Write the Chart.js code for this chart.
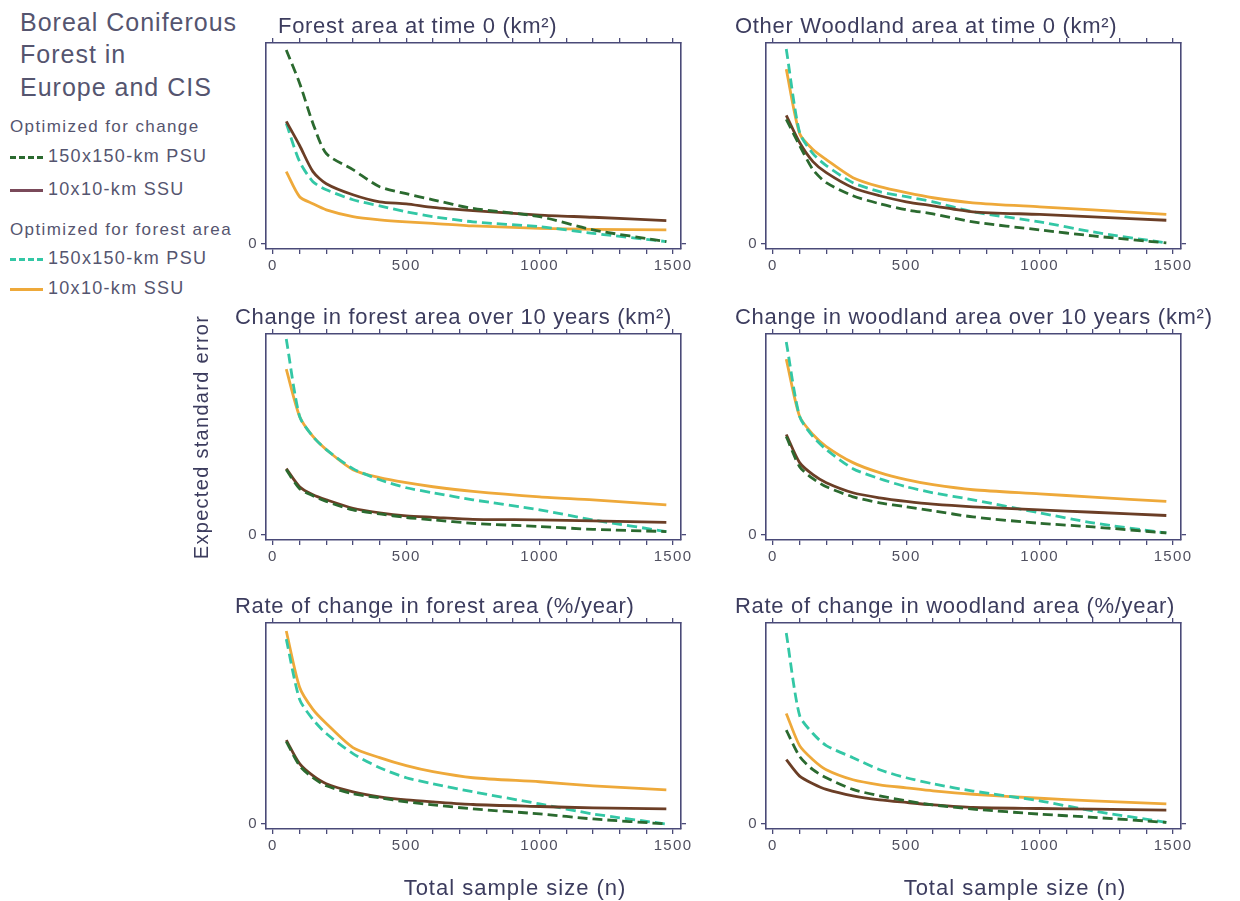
<!DOCTYPE html>
<html>
<head>
<meta charset="utf-8">
<script src="https://cdn.jsdelivr.net/npm/chart.js@4.4.1/dist/chart.umd.min.js"></script>
<style>
  body { margin: 0; width: 1240px; height: 901px; overflow: hidden; background: #fff; position: relative; font-family: "Liberation Sans", Arial, sans-serif; }
  .panel { position: absolute; }
  .legend { position: absolute; left: 0; top: 0; color: #55556f; }
  .legend div { position: absolute; white-space: nowrap; }
  .big { font-size: 25px; letter-spacing: 1px; left: 20px; }
  .small { font-size: 17px; letter-spacing: 1.4px; }
  .entry { font-size: 18px; letter-spacing: 1.3px; left: 48px; }
  .sw { position: absolute; left: 10px; width: 33px; height: 0; }
</style>
</head>
<body>
<div class="legend">
  <div class="big" style="top:8px">Boreal Coniferous</div>
  <div class="big" style="top:40px">Forest in</div>
  <div class="big" style="top:73px">Europe and CIS</div>
  <div class="small" style="left:10px;top:117px">Optimized for change</div>
  <div class="sw" style="top:156px;border-top:3px dashed #2b6a2f"></div>
  <div class="entry" style="top:146px">150x150-km PSU</div>
  <div class="sw" style="top:189px;border-top:3px solid #7a4a5a"></div>
  <div class="entry" style="top:179px">10x10-km SSU</div>
  <div class="small" style="left:10px;top:220px">Optimized for forest area</div>
  <div class="sw" style="top:258px;border-top:3px dashed #33c7a5"></div>
  <div class="entry" style="top:248px">150x150-km PSU</div>
  <div class="sw" style="top:288px;border-top:3px solid #eea93a"></div>
  <div class="entry" style="top:278px">10x10-km SSU</div>
</div>

<script>
// sample sizes (x) shared by all curves
const n = [50, 100, 150, 200, 300, 400, 500, 600, 750, 1000, 1200, 1475];
const xTicks = [0, 100, 200, 300, 400, 500, 600, 700, 800, 900, 1000, 1100, 1200, 1300, 1400, 1500];
const xLabels = [0, 500, 1000, 1500];
const yTicks = [0];

const titles = [
    'Forest area at time 0 (km²)',
    'Other Woodland area at time 0 (km²)',
    'Change in forest area over 10 years (km²)',
    'Change in woodland area over 10 years (km²)',
    'Rate of change in forest area (%/year)',
    'Rate of change in woodland area (%/year)'
];

// expected standard error, relative units; one row per panel
const changePSU = [
    [96.5, 80, 60, 45, 37, 28.5, 25, 22, 17.7, 13.6, 7, 1.2],
    [62, 49, 37, 30.5, 24, 20, 17, 15, 11, 7, 4, 0.5],
    [32.5, 23, 19.5, 16.7, 12.5, 10.5, 8.7, 7.5, 5.8, 4.2, 2.8, 1.7],
    [49, 34, 28, 24, 19, 16, 14, 12, 9, 5.8, 4, 1],
    [41, 29, 23, 19, 15, 13, 11, 9.5, 7.5, 5, 2.5, 0],
    [46.7, 33.6, 27, 23, 17.2, 14, 11.5, 9.5, 7.4, 4.9, 3.3, 0.8]
];
const changeSSU = [
    [61, 49, 36, 30, 24.5, 21, 20, 18.2, 16.6, 14.4, 13.3, 11.6],
    [64, 50.5, 41, 35.5, 28, 24, 21, 19, 16, 14.7, 13.5, 11.8],
    [33, 24, 20, 17.5, 13.3, 11, 9.5, 8.8, 7.8, 7.5, 7, 6.3],
    [50, 36, 30, 26, 21, 18.5, 16.7, 15.3, 14, 12.5, 11.3, 9.7],
    [41.7, 30, 24, 20, 16, 13.5, 12, 11, 9.7, 8.7, 8, 7.5],
    [32, 23.8, 20, 17.2, 14, 12, 10.7, 9.5, 8.2, 7.7, 7.4, 6.9]
];
const areaPSU = [
    [60, 41, 31, 27, 22, 19, 16, 13.6, 11, 8.6, 5.3, 1.2],
    [97, 55.5, 45, 39, 30.5, 26, 23.5, 21, 16, 11, 6, 0.5],
    [97.5, 59, 49, 42.5, 33, 27.5, 23.5, 21, 17.5, 12.5, 7.5, 1.7],
    [96, 59, 49, 42.5, 33, 28, 24, 21, 17.5, 11, 6, 1],
    [92, 62, 52, 45, 35, 28, 23, 20, 16, 10, 5, 0],
    [95, 54, 45, 39, 33, 27, 23, 20, 16.4, 11.5, 6.5, 0.8]
];
const areaSSU = [
    [36, 23.5, 20, 17, 13.6, 12, 11, 10.3, 9, 7.8, 7.3, 7],
    [87, 55, 47, 42, 33, 28.5, 25.5, 23, 20.5, 18.5, 17, 14.7],
    [82.5, 59, 49, 42.5, 32.5, 28.5, 26, 24, 21.7, 19, 17.5, 15],
    [87.5, 59, 50, 44, 36, 31, 27.5, 25, 22.5, 20.5, 18.8, 16.7],
    [96, 68, 57, 50, 38, 33, 29, 26, 23, 21, 19, 17],
    [55, 39, 32, 27, 22, 19.5, 18, 16.5, 14.8, 12.8, 11.5, 10]
];

const axisColor = '#4a4a78';
const textColor = '#3c3c5e';
const font = '"Liberation Sans", Arial, sans-serif';

// draws the panel heading and the bottom-row axis caption
const panelText = {
    id: 'panelText',
    beforeDraw(chart) {
        chart.ctx.letterSpacing = '1.3px';
    },
    afterDraw(chart, args, opts) {
        const ctx = chart.ctx;
        const area = chart.chartArea;
        ctx.save();
        ctx.fillStyle = textColor;
        ctx.letterSpacing = '0.7px';
        ctx.font = '22px ' + font;
        ctx.textBaseline = 'alphabetic';
        ctx.fillText(opts.title, area.left + opts.dx, area.top - 10);
        if (opts.xLabel) {
            ctx.letterSpacing = '1px';
            ctx.font = '22px ' + font;
            ctx.textAlign = 'center';
            ctx.fillText(opts.xLabel, area.left + 249, area.bottom + 66);
        }
        ctx.restore();
    }
};

function xpts(vals) {
    return vals.map((v, i) => ({x: n[i], y: v}));
}

function edgeAxis(pos, isX, width) {
    return {
        type: 'linear',
        position: pos,
        min: isX ? -26 : -2.5,
        max: isX ? 1530 : 100,
        afterBuildTicks: (s) => { s.ticks = (isX ? xTicks : yTicks).map(v => ({value: v})); },
        afterFit: (s) => { if (isX) s.height = width; else s.width = width; },
        ticks: {display: false},
        grid: {drawOnChartArea: false, tickLength: 5, color: axisColor, lineWidth: 1.3},
        border: {color: axisColor, width: 1.6}
    };
}

function drawPanel(i) {
    const col = i % 2, row = Math.floor(i / 2);
    const areaLeft = col == 0 ? 266 : 766;
    const areaTop = [43, 334, 623][row];
    const yWidth = i == 2 ? 76 : 36;
    const left = areaLeft - yWidth;
    const right = col == 0 ? 720 : 1240;
    const bottomPad = row == 2 ? 45 : 4;
    const height = 40 + 206 + 30 + bottomPad;

    const box = document.createElement('div');
    box.className = 'panel';
    box.style.left = left + 'px';
    box.style.top = (areaTop - 40) + 'px';
    box.style.width = (right - left) + 'px';
    box.style.height = height + 'px';
    const cv = document.createElement('canvas');
    box.appendChild(cv);
    document.body.appendChild(box);

    const x = edgeAxis('bottom', true, 30);
    x.ticks = {
        display: true, autoSkip: false, maxRotation: 0, padding: 3, color: '#505060',
        font: {family: font, size: 15},
        callback: (v) => xLabels.includes(v) ? String(v) : ''
    };
    const y = edgeAxis('left', false, yWidth);
    y.ticks = {display: true, padding: 3, color: '#505060', font: {family: font, size: 15}, callback: (v) => String(v)};
    if (i == 2) {
        y.title = {display: true, text: 'Expected standard error', color: textColor,
            font: {family: font, size: 20}, padding: {top: 0, bottom: 0}};
    }

    new Chart(cv, {
        type: 'line',
        data: {
            datasets: [{
                label: 'Optimized for change: 150x150-km PSU',
                data: xpts(changePSU[i]),
                borderColor: '#2b6a2f',
                borderDash: [10, 5],
                borderWidth: 2.8
            }, {
                label: 'Optimized for change: 10x10-km SSU',
                data: xpts(changeSSU[i]),
                borderColor: '#6b3e26',
                borderWidth: 2.8
            }, {
                label: 'Optimized for forest area: 150x150-km PSU',
                data: xpts(areaPSU[i]),
                borderColor: '#33c7a5',
                borderDash: [10, 5],
                borderWidth: 2.8
            }, {
                label: 'Optimized for forest area: 10x10-km SSU',
                data: xpts(areaSSU[i]),
                borderColor: '#eea93a',
                borderWidth: 2.8
            }]
        },
        options: {
            responsive: true,
            maintainAspectRatio: false,
            animation: false,
            layout: {padding: {top: 30, right: right - (areaLeft + 415 + 10), bottom: bottomPad, left: 0}},
            elements: {point: {radius: 0}, line: {tension: 0.25, borderCapStyle: 'butt'}},
            scales: {
                x: x,
                xTop: edgeAxis('top', true, 10),
                y: y,
                yRight: edgeAxis('right', false, 10)
            },
            plugins: {
                legend: {display: false},
                tooltip: {enabled: false},
                panelText: {
                    title: titles[i],
                    dx: i == 0 ? 12 : -31,
                    xLabel: row == 2 ? 'Total sample size (n)' : ''
                }
            }
        },
        plugins: [panelText]
    });
}

for (let i = 0; i < 6; i++) {
    drawPanel(i);
}
</script>
</body>
</html>
